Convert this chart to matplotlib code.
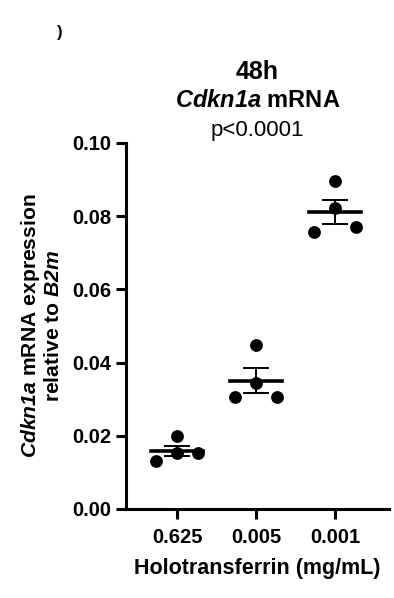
import numpy as np
import matplotlib
matplotlib.use("Agg")
import matplotlib.pyplot as plt

plt.rcParams["font.family"] = ["Liberation Sans", "DejaVu Sans"]
plt.rcParams["mathtext.fontset"] = "custom"
plt.rcParams["mathtext.bfit"] = "Liberation Sans:italic:bold"
plt.rcParams["mathtext.bf"] = "Liberation Sans:bold"
plt.rcParams["mathtext.rm"] = "Liberation Sans"

# data (order: left, centre, centre, right)
groups = ["0.625", "0.005", "0.001"]
g1 = [0.0130, 0.0198, 0.0152, 0.0152]
g2 = [0.0305, 0.0448, 0.0345, 0.0305]
g3 = [0.0756, 0.0897, 0.0822, 0.0771]
offsets = [-0.27, 0.0, 0.0, 0.27]
yticks = [0.00, 0.02, 0.04, 0.06, 0.08, 0.10]

fig = plt.figure(figsize=(3.94, 5.98), dpi=100)
ax = fig.add_axes([0.320, 0.149, 0.667, 0.612])

for i, vals in enumerate([g1, g2, g3]):
    vals = np.array(vals)
    m = vals.mean()
    sem = vals.std(ddof=1) / np.sqrt(len(vals))
    ax.scatter(i + np.array(offsets), vals, s=85, color="black", zorder=3, lw=0)
    ax.plot([i - 0.33, i + 0.33], [m, m], color="black", lw=2.6, zorder=4)
    ax.errorbar(i, m, yerr=sem, fmt="none", ecolor="black", elinewidth=1.4,
                capsize=9.5, capthick=1.4, zorder=4)

ax.set_xlim(-0.646, 2.68)
ax.set_ylim(0, 0.10)
ax.set_yticks(yticks)
ax.set_yticklabels([f"{t:.2f}" for t in yticks])
ax.set_xticks(range(len(groups)))
ax.set_xticklabels(groups)
for s in ["top", "right"]:
    ax.spines[s].set_visible(False)
for s in ["left", "bottom"]:
    ax.spines[s].set_linewidth(2.2)
ax.tick_params(width=2.2, length=7, labelsize=14.5)
ax.tick_params(axis="x", pad=7)
for lab in ax.get_xticklabels() + ax.get_yticklabels():
    lab.set_fontweight("bold")

ax.set_xlabel("Holotransferrin (mg/mL)", fontsize=15.5, fontweight="bold", labelpad=8)
ax.set_ylabel("$\\bfit{Cdkn1a}$ mRNA expression\nrelative to $\\bfit{B2m}$",
              fontsize=15.2, fontweight="bold", labelpad=7, linespacing=1.1)

# titles
fig.text(0.653, 0.880, "48h", ha="center", va="center", fontsize=18, fontweight="bold")
fig.text(0.653, 0.832, "$\\bfit{Cdkn1a}$ mRNA", ha="center", va="center",
         fontsize=17, fontweight="bold")
fig.text(0.653, 0.782, "p<0.0001", ha="center", va="center", fontsize=16)
fig.text(0.152, 0.945, ")", ha="center", va="center", fontsize=12, fontweight="bold")

fig.savefig("out.png", dpi=100)
